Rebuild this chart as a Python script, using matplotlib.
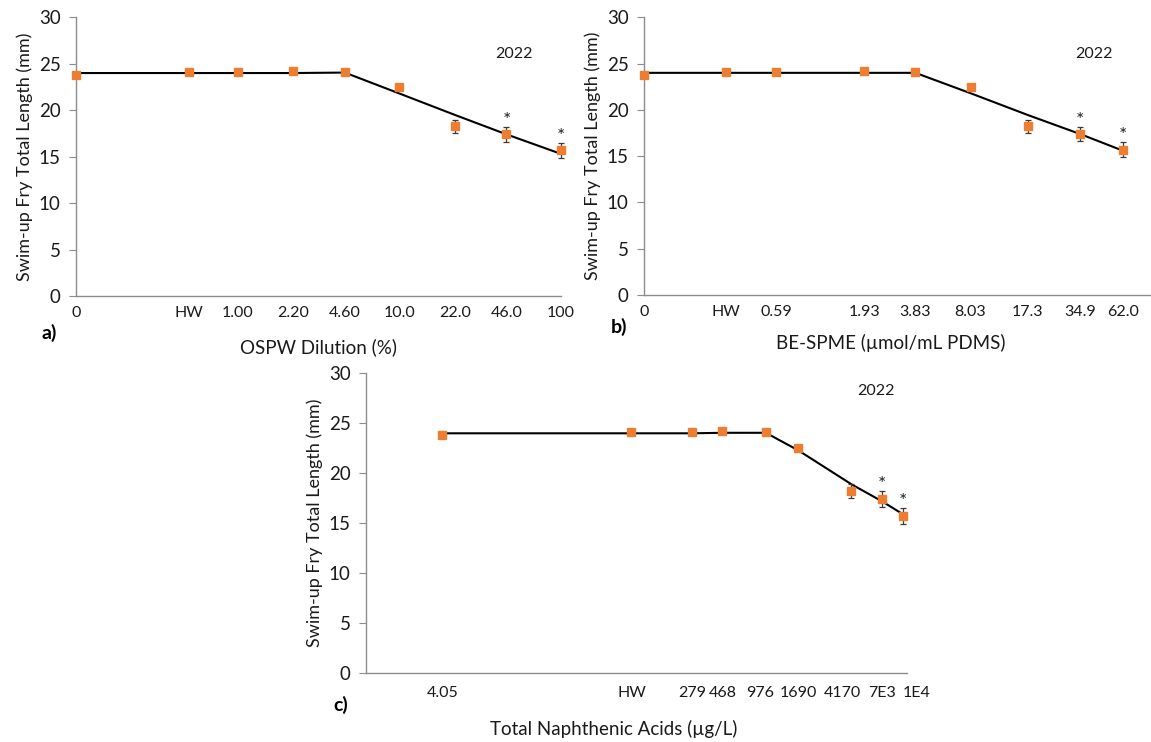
import matplotlib
matplotlib.use('Agg')
import matplotlib.pyplot as plt
from matplotlib.transforms import ScaledTranslation

plt.rcParams['font.family'] = ['Lato', 'DejaVu Sans']

# fry total length (mm), same treatments in every panel
length_mm = [23.8, 24.1, 24.1, 24.2, 24.1, 22.5, 18.25, 17.4, 15.7]
length_err = [0.2, 0.2, 0.2, 0.2, 0.3, 0.3, 0.7, 0.8, 0.8]
signif = [False, False, False, False, False, False, False, True, True]

# a) OSPW dilution; 0 and HW sit on the log axis at 0.1 and 0.5
ospw_x = [0.1, 0.5, 1.0, 2.2, 4.6, 10.0, 22.0, 46.0, 100.0]
ospw_labels = ['0', 'HW', '1.00', '2.20', '4.60', '10.0', '22.0', '46.0', '100']
ospw_fit = [24.0, 24.0, 24.0, 24.0, 24.05, 21.8, 19.5, 17.4, 15.3]

# b) BE-SPME
spme_x = [0.1, 0.3, 0.59, 1.93, 3.83, 8.03, 17.3, 34.9, 62.0]
spme_labels = ['0', 'HW', '0.59', '1.93', '3.83', '8.03', '17.3', '34.9', '62.0']
spme_fit = [24.0, 24.0, 24.0, 24.0, 24.0, 21.8, 19.45, 17.4, 15.6]

# c) total naphthenic acids
na_x = [4.05, 100, 279, 468, 976, 1690, 4170, 7000, 10000]
na_labels = ['4.05', 'HW', '279', '468', '976', '1690', '4170', '7E3', '1E4']
na_fit = [24.0, 24.0, 24.0, 24.05, 24.05, 22.3, 18.9, 17.2, 15.9]
na_label_shift = [0, 0, 0, 0, -6, 0, -9, 0, 14]   # px, labels are packed tight

W, H = 1151, 742
ORANGE = '#ED7D31'
AXIS = '#8c8c8c'
TXT = '#1a1a1a'


def px_axes(fig, left, right, top, bottom):
    return fig.add_axes([left / W, 1 - bottom / H, (right - left) / W, (bottom - top) / H])


def draw_panel(ax, xs, labels, fit, xlim, xlabel, xpad, xlab_pos, year_pos):
    ax.plot(xs, fit, color='black', lw=1.5, zorder=2, clip_on=False)
    ax.errorbar(xs, length_mm, yerr=length_err, fmt='s', color=ORANGE,
                markersize=6, ecolor='#3a3a3a', elinewidth=0.9, capsize=2.5,
                capthick=0.9, zorder=3, clip_on=False)
    for x, y, e, s in zip(xs, length_mm, length_err, signif):
        if s:
            ax.text(x, y + e + 0.7, '*', ha='center', va='center', fontsize=14,
                    color='#222222')

    ax.set_xscale('log')
    ax.set_xlim(*xlim)
    ax.set_ylim(0, 30)
    ax.set_yticks(range(0, 31, 5))
    ax.set_xticks(xs)
    ax.set_xticklabels(labels)
    ax.minorticks_off()
    ax.tick_params(axis='x', length=0, pad=xpad, labelsize=11.5, labelcolor=TXT)
    ax.tick_params(axis='y', length=5, width=0.8, color=AXIS, pad=6,
                   labelsize=13.5, labelcolor=TXT)

    for side in ['top', 'right']:
        ax.spines[side].set_visible(False)
    for side in ['left', 'bottom']:
        ax.spines[side].set_color(AXIS)
        ax.spines[side].set_linewidth(1.0)

    ax.set_ylabel('Swim-up Fry Total Length (mm)', fontsize=13, color=TXT)
    ax.set_xlabel(xlabel, fontsize=13.5, color=TXT)
    ax.xaxis.set_label_coords(*xlab_pos)
    ax.text(year_pos[0], year_pos[1], '2022', transform=ax.transAxes, ha='center',
            va='center', fontsize=11.5, color=TXT)


fig = plt.figure(figsize=(W / 100, H / 100), dpi=100)

ax_a = px_axes(fig, 76, 561, 17.3, 296)
draw_panel(ax_a, ospw_x, ospw_labels, ospw_fit, (0.1, 100), 'OSPW Dilution (%)',
           7, (0.5, -0.15), (0.904, 0.87))

ax_b = px_axes(fig, 644, 1151, 17.3, 295)
draw_panel(ax_b, spme_x, spme_labels, spme_fit, (0.1, 90.7),
           'BE-SPME (µmol/mL PDMS)', 7, (0.487, -0.14), (0.888, 0.867))

ax_c = px_axes(fig, 366, 906.7, 373.3, 673.3)
draw_panel(ax_c, na_x, na_labels, na_fit, (1.11, 10640),
           'Total Naphthenic Acids (µg/L)', 9, (0.459, -0.155), (0.944, 0.94))
for lab, dx in zip(ax_c.get_xticklabels(), na_label_shift):
    lab.set_transform(lab.get_transform() + ScaledTranslation(dx / 100, 0, fig.dpi_scale_trans))

fig.text(49 / W, 1 - 333 / H, 'a)', fontsize=14, fontweight='bold', ha='center', va='center')
fig.text(619 / W, 1 - 327 / H, 'b)', fontsize=14, fontweight='bold', ha='center', va='center')
fig.text(341 / W, 1 - 705 / H, 'c)', fontsize=14, fontweight='bold', ha='center', va='center')

fig.savefig('out.png', dpi=100)
